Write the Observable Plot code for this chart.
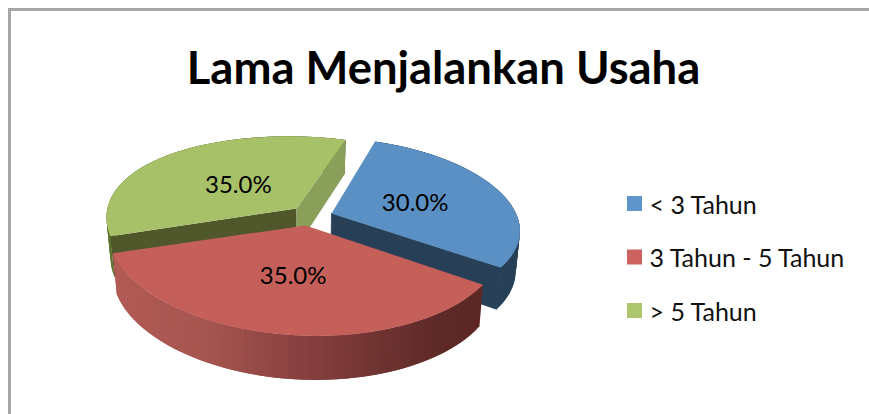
<!DOCTYPE html>
<html>
<head>
<meta charset="utf-8">
<script src="https://cdn.jsdelivr.net/npm/d3@7"></script>
<script src="https://cdn.jsdelivr.net/npm/@observablehq/plot@0.6"></script>
<style>
html,body{margin:0;padding:0;background:#fff;width:869px;height:414px;overflow:hidden}
#chart{position:absolute;left:0;top:0}
#frame{position:absolute;left:8px;top:8px;right:0;bottom:0;border-left:3px solid #a6a6a6;border-top:3px solid #a6a6a6}
</style>
</head>
<body>
<div id="frame"></div>
<div id="chart"></div>
<script>
const titleText = "Lama Menjalankan Usaha";
const categories = ["< 3 Tahun", "3 Tahun - 5 Tahun", "> 5 Tahun"];
const shares = [30, 35, 35];
const topColors = ["#5b90c5", "#c55f5a", "#a7c169"];
const legendColors = ["#5f95cb", "#cb625e", "#adc66d"];

// Pie layout from the values (clockwise, first slice starts at 14.4 degrees)
const start = 14.4 * Math.PI / 180;
const total = d3.sum(shares);
let acc = start;
const slices = categories.map((c, i) => {
  const a0 = acc; acc += shares[i] / total * 2 * Math.PI;
  return {i, category: c, share: shares[i], a0, a1: acc};
});

// 3D view of the pie plane, tuned per exploded slice
const views = [
  {ox: 331, oy: 213, R: 187, K: 84, T: 7, P: 0.11, Q: 0.14, S: -3, reach: 0.49, dy: 2},
  {ox: 305, oy: 225, R: 193, K: 87, T: 7, P: 0.21, Q: 0.17, S: -3, reach: 0.53, dy: 0},
  {ox: 296, oy: 208, R: 187, K: 87, T: 7, P: 0.21, Q: 0.13, S: -9, reach: 0.45, dy: 3}
];
function topPt(i, a, k = 1) {
  const v = views[i];
  const X = Math.sin(a) * k, Z = -Math.cos(a) * k;
  return [v.ox + (v.R * X + v.S * Z) / (1 - v.Q * Z), v.oy + (v.K * Z + v.T * X) / (1 - v.P * Z)];
}
function botPt(p, Z) {
  return [305 + (p[0] - 305) * 0.98, p[1] + 39 + 5 * Z];
}
const arcAngles = (a0, a1, n) => d3.range(n + 1).map(j => a0 + (a1 - a0) * j / n);
let pid = 0;
function pushPoly(pts, fill, category) {
  const id = pid++;
  return pts.map(p => ({id, x: p[0], y: p[1], fill, category}));
}
const redWall = d3.scaleLinear()
  .domain([-190, -100, -5, 75, 130, 175])
  .range(["#b25a55", "#a5554f", "#873f3f", "#6e3331", "#5e2a28", "#5c2725"])
  .clamp(true);

// Wall quads overlap the next one to hide seams
function wall(i, a0, a1, colorOf, n) {
  const out = [];
  const as = arcAngles(a0, a1, n);
  for (let j = 0; j < n; j++) {
    const a = as[j], b = Math.min(as[j + 1] + (a1 - a0) / n, a1);
    const p = topPt(i, a), q = topPt(i, b);
    out.push(pushPoly([p, q, botPt(q, -Math.cos(b)), botPt(p, -Math.cos(a))], colorOf(topPt(i, as[j + 1])[0] - views[i].ox)));
  }
  return out;
}
function cut(i, a, color) {
  const O = [views[i].ox, views[i].oy], e = topPt(i, a);
  return [pushPoly([O, e, botPt(e, -Math.cos(a)), botPt(O, 0), O], color)];
}
function topFace(s) {
  const i = s.i;
  const pts = [[views[i].ox, views[i].oy], ...arcAngles(s.a0, s.a1, 90).map(a => topPt(i, a))];
  return pushPoly(pts, null, s.category);
}
const faceMark = (polysList, seal) => Plot.line(polysList.flat(), {
  x: "x", y: "y", z: "id",
  fill: {value: d => d.fill, scale: null},
  stroke: seal ? {value: d => d.fill, scale: null} : "none",
  strokeWidth: seal ? 0.8 : 0
});
const topMark = (s) => Plot.line(topFace(s), {
  x: "x", y: "y", z: "id", fill: "category", stroke: "none"
});

const [blue, red, green] = slices;

const marks = [
  // green slice
  faceMark(wall(2, green.a0, green.a1, () => "#5f7230", 60)),
  faceMark(cut(2, green.a0, "#50572a")),
  faceMark(cut(2, green.a1, "#8a9f5a")),
  topMark(green),
  // blue slice
  faceMark(wall(0, blue.a0, blue.a1, () => "#274057", 60)),
  faceMark(cut(0, blue.a1, "#274057"), true),
  topMark(blue),
  // red slice
  faceMark(wall(1, red.a0, red.a1, redWall, 70)),
  topMark(red),
  // value labels
  Plot.text(slices, {
    x: s => topPt(s.i, (s.a0 + s.a1) / 2, views[s.i].reach)[0],
    y: s => topPt(s.i, (s.a0 + s.a1) / 2, views[s.i].reach)[1] + views[s.i].dy,
    text: s => (s.share).toFixed(1) + "%",
    fontSize: 24, fill: "#000", fontFamily: "Lato"
  }),
  // title
  Plot.text([titleText], {
    x: () => 443, y: () => 69, text: d => d,
    fontSize: 45.4, fontWeight: 700, fill: "#000", fontFamily: "Lato"
  }),
  // legend
  Plot.rect(slices, {
    x1: () => 627, x2: () => 642,
    y1: s => 196 + 53.5 * s.i, y2: s => 211 + 53.5 * s.i,
    fill: {value: s => legendColors[s.i], scale: null}
  }),
  Plot.text(slices, {
    x: () => 649, y: s => 205 + 53.5 * s.i, text: "category",
    textAnchor: "start", fontSize: 25, fill: "#111", fontFamily: "Lato"
  })
];

const plot = Plot.plot({
  width: 869, height: 414,
  margin: 0,
  x: {domain: [0, 869], range: [0, 869], axis: null},
  y: {domain: [0, 414], range: [0, 414], axis: null},
  color: {domain: categories, range: topColors},
  style: {background: "transparent"},
  marks
});
document.getElementById("chart").appendChild(plot);
</script>
</body>
</html>
